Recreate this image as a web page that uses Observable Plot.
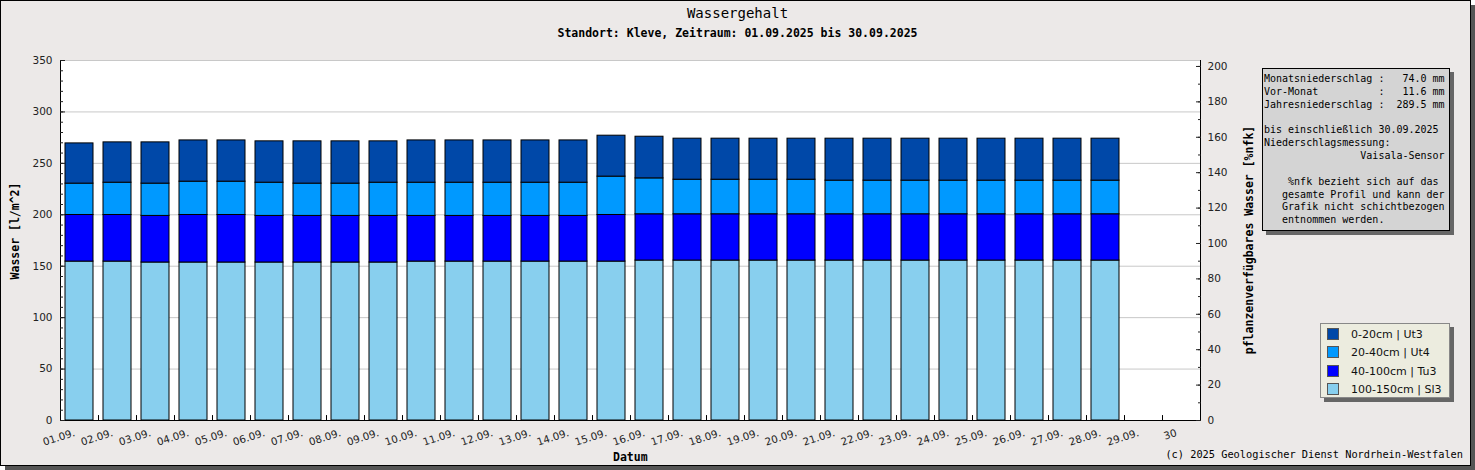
<!DOCTYPE html>
<html><head><meta charset="utf-8">
<script src="https://cdn.jsdelivr.net/npm/d3@7"></script>
<script src="https://cdn.jsdelivr.net/npm/@observablehq/plot@0.6"></script>
<style>
body{margin:0;background:#fff;}
#wrap{position:relative;width:1475px;height:470px;overflow:hidden;}
#frame{position:absolute;left:0;top:0;width:1469px;height:464px;border:1px solid #000;background:#ece9e8;box-shadow:5px 5px 0 #555;}
#chart{position:absolute;left:0;top:0;}
.t{position:absolute;white-space:pre;font-family:"DejaVu Sans Mono",monospace;color:#000;}
.rot{transform:translate(-50%,-50%) rotate(-90deg);font-weight:bold;font-size:11.5px;}
#info{position:absolute;left:1262px;top:68px;border:1px solid #000;background:#d4d4d4;box-shadow:4px 4px 0 #666;font-family:"DejaVu Sans Mono",monospace;font-size:10px;line-height:12.85px;white-space:pre;padding:4px 0 0 1px;box-sizing:border-box;width:188px;height:163px;color:#000;}
#legend{position:absolute;left:1320px;top:323px;width:130px;height:75px;box-sizing:border-box;border:1px solid #888;background:#ececdf;box-shadow:4px 4px 0 #666;font-family:"DejaVu Sans",sans-serif;font-size:11px;color:#111;}
.li{position:absolute;left:6px;height:14px;line-height:14px;}
.sw{display:inline-block;width:10px;height:10px;border:1px solid #555;vertical-align:middle;margin-right:12px;position:relative;top:-1px;}
</style></head>
<body>
<div id="wrap">
  <div id="frame"></div>
  <div id="chart"></div>
  <div class="t" style="left:0;width:1475px;text-align:center;top:5px;font-size:14px;">Wassergehalt</div>
  <div class="t" style="left:0;width:1475px;text-align:center;top:26px;font-size:11.5px;font-weight:bold;">Standort: Kleve, Zeitraum: 01.09.2025 bis 30.09.2025</div>
  <div class="t rot" style="left:15px;top:231px;">Wasser [l/m^2]</div>
  <div class="t rot" style="left:1249px;top:240px;">pflanzenverfügbares Wasser [%nfk]</div>
  <div class="t" style="left:613px;top:450px;font-size:11.5px;font-weight:bold;">Datum</div>
  <div class="t" style="right:12px;top:448px;font-size:10.3px;">(c) 2025 Geologischer Dienst Nordrhein-Westfalen</div>
  <div id="info"></div>
  <div id="legend"></div>
</div>
<script>
// ---- data ----
const dates = ["01.09.","02.09.","03.09.","04.09.","05.09.","06.09.","07.09.","08.09.","09.09.","10.09.",
  "11.09.","12.09.","13.09.","14.09.","15.09.","16.09.","17.09.","18.09.","19.09.","20.09.",
  "21.09.","22.09.","23.09.","24.09.","25.09.","26.09.","27.09.","28.09.","29.09.","30"];
const layers = ["0-20cm | Ut3","20-40cm | Ut4","40-100cm | Tu3","100-150cm | Sl3"];
const colors = ["#0048a8","#0099ff","#0000ff","#88cfee"];
const l0_20 = [39.1,39.2,40.1,40.1,40.1,40.2,41.1,41.1,40.2,41.1,41.1,41.1,41.1,41.1,39.8,40.5,39.9,39.9,39.9,39.9,40.8,40.8,40.8,40.8,40.8,40.8,40.8,40.8];
const l20_40 = [30.5,31.4,31.4,32.4,32.4,32.3,31.4,31.4,32.3,32.3,32.3,32.3,32.3,32.3,37.3,34.9,33.6,33.6,33.6,33.6,32.7,32.7,32.7,32.7,32.7,32.7,32.7,32.7];
const l40_100 = [45.3,45.3,45.3,46.2,46.2,45.3,45.3,45.3,45.3,44.4,44.4,44.4,44.4,44.4,45.3,45.0,45.0,45.0,45.0,45.0,45.0,45.0,45.0,45.0,45.0,45.0,45.0,45.0];
const l100_150 = [154.5,154.5,153.6,153.6,153.6,153.6,153.6,153.6,153.6,154.5,154.5,154.5,154.5,154.5,154.5,155.5,155.5,155.5,155.5,155.5,155.5,155.5,155.5,155.5,155.5,155.5,155.5,155.5];
const leftMajor = [0,50,100,150,200,250,300,350];
const leftMinor = [0,10,20,30,40,50,60,70,80,90,100,110,120,130,140,150,160,170,180,190,200,210,220,230,240,250,260,270,280,290,300,310,320,330,340,350];
const rightMajor = [0,20,40,60,80,100,120,140,160,180,200];
const rightMinor = [0,10,20,30,40,50,60,70,80,90,100,110,120,130,140,150,160,170,180,190,200];
const nfkFactor = 1.721; // %nfk -> l/m^2 scale ratio
const infoLines = [
  "Monatsniederschlag :   74.0 mm",
  "Vor-Monat          :   11.6 mm",
  "Jahresniederschlag :  289.5 mm",
  "",
  "bis einschließlich 30.09.2025",
  "Niederschlagsmessung:",
  "                Vaisala-Sensor",
  "",
  "    %nfk bezieht sich auf das",
  "   gesamte Profil und kann der",
  "   Grafik nicht schichtbezogen",
  "   entnommen werden."
];

// ---- tidy rows (bottom layer first) ----
const series = [l100_150, l40_100, l20_40, l0_20];
const stackOrder = [layers[3], layers[2], layers[1], layers[0]];
const rows = [];
series.forEach((vals, si) => vals.forEach((v, i) => rows.push({date: dates[i], layer: stackOrder[si], value: v})));

const W = 1475, H = 470, mL = 60, mR = 275, mT = 60, mB = 50;
const step = (W - mL - mR) / dates.length;

const chart = Plot.plot({
  width: W, height: H, marginLeft: mL, marginRight: mR, marginTop: mT, marginBottom: mB,
  style: {background: "transparent", fontFamily: "DejaVu Sans", fontSize: "10.5px", color: "#222", overflow: "visible"},
  x: {domain: dates, paddingInner: 0.26, paddingOuter: 0.13, label: null, axis: null},
  y: {domain: [0, 350], label: null, axis: null},
  color: {domain: layers, range: colors},
  marks: [
    Plot.frame({fill: "white", stroke: null}),
    Plot.gridY(leftMajor, {stroke: "#c8c8c8", strokeOpacity: 1}),
    Plot.barY(rows, {x: "date", y: "value", fill: "layer", order: stackOrder, stroke: "black", strokeWidth: 1}),
    Plot.frame({stroke: "black"}),
    Plot.ruleY([350], {stroke: "#c8c8c8"}),
    Plot.axisY(leftMajor, {tickSize: 0, tickPadding: 8, label: null}),
    Plot.axisY(leftMinor, {tickSize: -3, tickFormat: () => "", label: null}),
    Plot.axisY(leftMajor, {tickSize: -5, tickFormat: () => "", label: null}),
    Plot.axisY(rightMajor.map(r => r * nfkFactor), {anchor: "right", tickSize: 0, tickPadding: 7, tickFormat: d => String(Math.round(d / nfkFactor)), label: null}),
    Plot.axisY(rightMinor.map(r => r * nfkFactor), {anchor: "right", tickSize: -3, tickFormat: () => "", label: null}),
    Plot.axisY(rightMajor.map(r => r * nfkFactor), {anchor: "right", tickSize: -5, tickFormat: () => "", label: null}),
    Plot.axisX({tickSize: 0, tickRotate: -18, tickPadding: 12, dx: -5, fontSize: 10.3, label: null}),
    Plot.ruleX(dates.slice(1), {x: d => d, y1: 0, y2: 4.8, dx: -step / 2, stroke: "black"})
  ]
});
document.getElementById("chart").appendChild(chart);

document.getElementById("info").textContent = infoLines.join("\n");

const legend = document.getElementById("legend");
layers.forEach((name, i) => {
  const d = document.createElement("div");
  d.className = "li";
  d.style.top = (4 + i * 18.3) + "px";
  const s = document.createElement("span");
  s.className = "sw";
  s.style.background = colors[i];
  d.appendChild(s);
  d.appendChild(document.createTextNode(name));
  legend.appendChild(d);
});
</script>
</body></html>
